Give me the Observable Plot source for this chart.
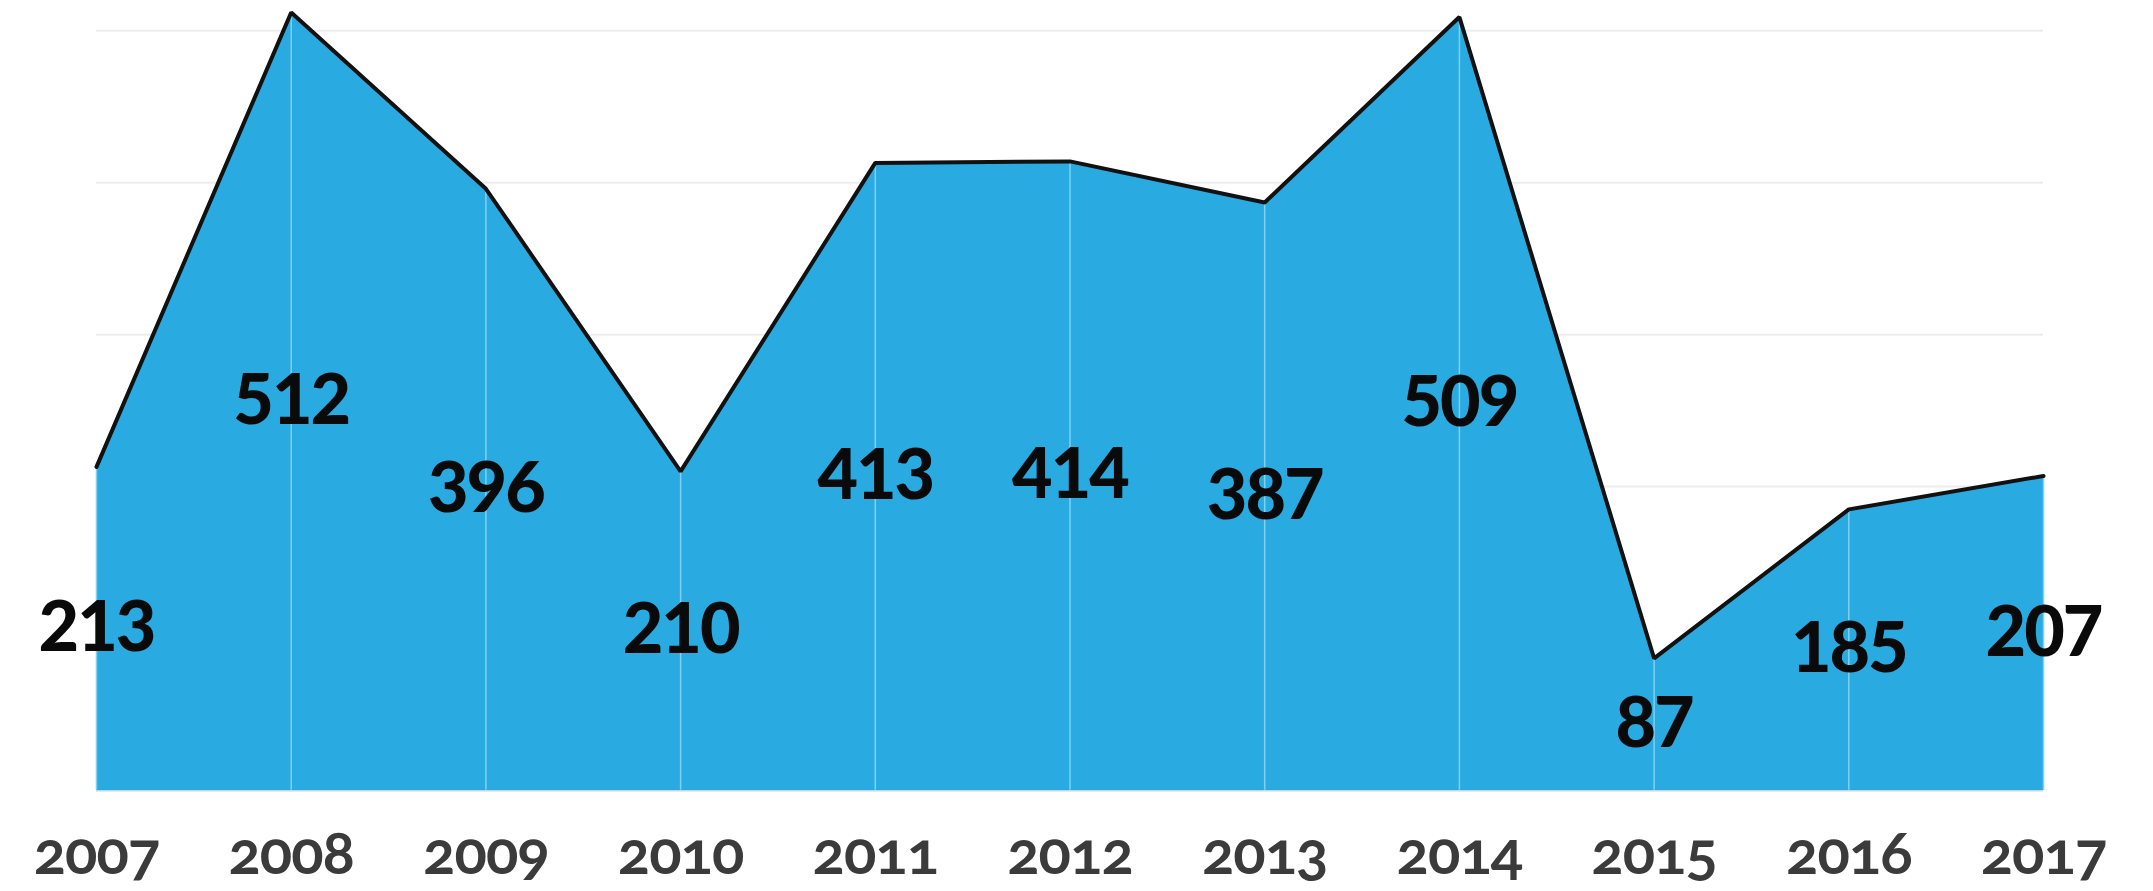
<!DOCTYPE html>
<html>
<head>
<meta charset="utf-8">
<script src="https://cdn.jsdelivr.net/npm/d3@7"></script>
<script src="https://cdn.jsdelivr.net/npm/@observablehq/plot@0.6"></script>
<style>
  html, body { margin: 0; padding: 0; background: #ffffff; }
  #chart { width: 2153px; height: 891px; overflow: hidden; }
  #chart svg { display: block; }
</style>
</head>
<body>
<div id="chart"></div>
<script>
const years = [2007, 2008, 2009, 2010, 2011, 2012, 2013, 2014, 2015, 2016, 2017];
const values = [213, 512, 396, 210, 413, 414, 387, 509, 87, 185, 207];
const gridValues = [200, 300, 400, 500];

const data = years.map((year, i) => ({year, value: values[i]}));

const chart = Plot.plot({
  width: 2153,
  height: 891,
  marginLeft: 96,
  marginRight: 110,
  marginTop: 12,
  marginBottom: 101,
  style: {background: "#ffffff", fontFamily: "Lato, 'Open Sans', sans-serif"},
  x: {domain: [2007, 2017], axis: null},
  y: {domain: [0, 512], axis: null},
  marks: [
    Plot.ruleY(gridValues, {stroke: "#ececec", strokeWidth: 2}),
    Plot.areaY(data, {x: "year", y: "value", fill: "#29abe2", curve: "linear"}),
    Plot.ruleX(data, {x: "year", y1: 0, y2: "value", stroke: "#7fd0f3", strokeWidth: 1.5}),
    Plot.ruleY([0], {stroke: "#4c8fae", strokeOpacity: 0.35, strokeWidth: 2}),
    Plot.lineY(data, {x: "year", y: "value", stroke: "#111111", strokeWidth: 4, strokeLinejoin: "miter"}),
    Plot.text(data, {
      x: "year",
      y: d => d.value / 2,
      text: d => String(d.value),
      fontSize: 70,
      fontWeight: 900,
      fill: "#0a0a0a",
      fontFamily: "Lato, sans-serif",
      lineAnchor: "middle"
    }),
    Plot.axisX(years, {
      label: null,
      tickSize: 0,
      tickPadding: 41,
      tickFormat: d => String(d),
      fontSize: 60,
      fontWeight: 700,
      fill: "#3b3b3b",
      fontFamily: "Lato, sans-serif"
    })
  ]
});

d3.select(chart).selectAll("g[aria-label='x-axis tick label'] text")
  .style("font-variant-numeric", "oldstyle-nums")
  .style("letter-spacing", "-1px");
d3.select(chart).selectAll("g[aria-label='text'] text")
  .style("letter-spacing", "-2px");

document.getElementById("chart").appendChild(chart);
</script>
</body>
</html>
